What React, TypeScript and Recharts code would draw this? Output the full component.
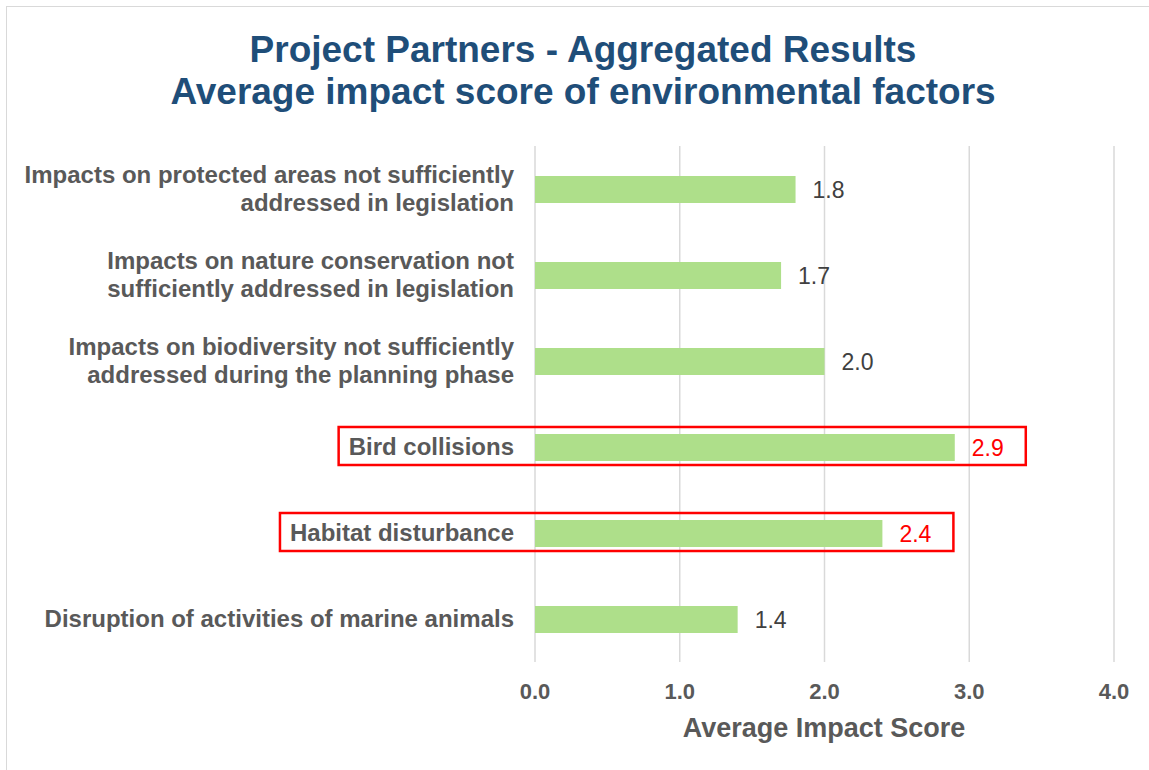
import { BarChart, Bar, XAxis, YAxis, CartesianGrid } from 'recharts';

// Category labels (line breaks as in the original slide)
const categories = [
  'Impacts on protected areas not sufficiently\naddressed in legislation',
  'Impacts on nature conservation not\nsufficiently addressed in legislation',
  'Impacts on biodiversity not sufficiently\naddressed during the planning phase',
  'Bird collisions',
  'Habitat disturbance',
  'Disruption of activities of marine animals',
];

const scores = [1.8, 1.7, 2.0, 2.9, 2.4, 1.4];

// Rows outlined in red
const highlighted = ['Bird collisions', 'Habitat disturbance'];

const xTicks = [0, 1, 2, 3, 4];

const titleLines = ['Project Partners - Aggregated Results', 'Average impact score of environmental factors'];
const xAxisTitle = 'Average Impact Score';

const FONT = '"Liberation Sans", Arial, sans-serif';
const LABEL_SIZE = 24;

const data = categories.map((category, i) => ({ category, score: scores[i] }));

let measureCtx: CanvasRenderingContext2D | null = null;
function textWidth(text: string, font: string) {
  if (!measureCtx) measureCtx = document.createElement('canvas').getContext('2d');
  if (!measureCtx) return text.length * 12;
  measureCtx.font = font;
  return measureCtx.measureText(text).width;
}

function CategoryTick({ x, y, payload }: any) {
  const lines = String(payload.value).split('\n');
  const start = y + 8 - (lines.length - 1) * 14;
  return (
    <text textAnchor="end" fontFamily={FONT} fontSize={LABEL_SIZE} fontWeight="bold" fill="#595959">
      {lines.map((line, i) => (
        <tspan key={i} x={x} y={start + i * 28}>
          {line}
        </tspan>
      ))}
    </text>
  );
}

function ValueLabel({ x, y, width, height, value, index }: any) {
  const category = categories[index];
  const hot = highlighted.includes(category);
  const cy = y + height / 2;
  let box = null;
  if (hot) {
    // box spans from the category label to just past the value label
    const labelW = textWidth(category, `bold ${LABEL_SIZE}px ${FONT}`);
    const left = x - 21 - labelW - 10;
    const right = x + width + 71;
    box = (
      <rect
        x={left}
        y={y - 7}
        width={right - left}
        height={height + 11}
        fill="none"
        stroke="#FF0000"
        strokeWidth={2.5}
      />
    );
  }
  return (
    <g>
      {box}
      <text x={x + width + 17} y={cy + 8.5} fontFamily={FONT} fontSize={23} fill={hot ? '#FF0000' : '#404040'}>
        {Number(value).toFixed(1)}
      </text>
    </g>
  );
}

export default function App() {
  return (
    <div style={{ position: 'absolute', left: 0, top: 0, width: 1149, height: 770, background: '#fff' }}>
      <div
        style={{
          position: 'absolute',
          left: 6,
          top: 6,
          width: 1143,
          height: 764,
          borderTop: '1.5px solid #D9D9D9',
          borderLeft: '1.5px solid #D9D9D9',
          boxSizing: 'border-box',
        }}
      />
      <BarChart
        width={1149}
        height={770}
        data={data}
        layout="vertical"
        margin={{ top: 146, right: 35, left: 0, bottom: 68 }}
        style={{ position: 'absolute', left: 0, top: 0 }}
      >
        <CartesianGrid horizontal={false} stroke="#D9D9D9" strokeWidth={1.5} />
        <XAxis
          type="number"
          domain={[0, 4]}
          ticks={xTicks}
          height={40}
          axisLine={false}
          tickLine={false}
          tickSize={0}
          tickMargin={21}
          tickFormatter={(v) => Number(v).toFixed(1)}
          tick={{ fontFamily: FONT, fontSize: 22, fontWeight: 'bold', fill: '#595959' }}
        />
        <YAxis
          type="category"
          dataKey="category"
          width={535}
          axisLine={false}
          tickLine={false}
          tickSize={0}
          tickMargin={21}
          interval={0}
          tick={<CategoryTick />}
        />
        <Bar dataKey="score" fill="#AEDF8A" barSize={27} isAnimationActive={false} label={<ValueLabel />} />
        <text textAnchor="middle" fontFamily={FONT} fontSize={37} fontWeight="bold" fill="#1F4E79">
          <tspan x={583} y={62}>{titleLines[0]}</tspan>
          <tspan x={583} y={104}>{titleLines[1]}</tspan>
        </text>
        <text x={824} y={737} textAnchor="middle" fontFamily={FONT} fontSize={27} fontWeight="bold" fill="#595959">
          {xAxisTitle}
        </text>
      </BarChart>
    </div>
  );
}
